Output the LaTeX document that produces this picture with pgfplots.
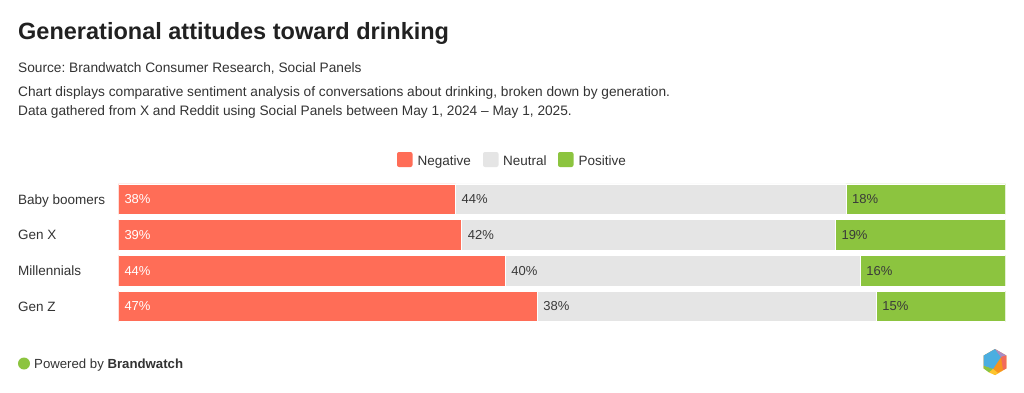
\documentclass[border=0pt]{standalone}
\usepackage{pgfplots}
\pgfplotsset{compat=1.18}
\usepackage{fontspec}
\setmainfont{Liberation Sans}
\frenchspacing
\definecolor{cneg}{HTML}{FF6D57}
\definecolor{cneu}{HTML}{E5E5E5}
\definecolor{cpos}{HTML}{8CC43F}
\definecolor{ttl}{HTML}{212121}
\definecolor{txt}{HTML}{333333}
\definecolor{lbl}{HTML}{3A3A3A}
\definecolor{lgO}{HTML}{F7941D}
\definecolor{lgB}{HTML}{4BAEE0}
\definecolor{lgP}{HTML}{A88BC7}
\definecolor{lgR}{HTML}{F26B5B}
\definecolor{lgY}{HTML}{FDC52E}
\pgfplotstableread{
y neg neu pos
0 38.0 44.0 18.0
1 38.7 42.1 19.2
2 43.6 40.0 16.4
3 47.2 38.2 14.6
}\data
\pgfplotsset{
  base/.style={
    at={(118.3pt,-181.4pt)}, anchor=north west,
    scale only axis, width=887.4pt, height=142.7pt,
    xmin=0, xmax=100, ymin=-0.5, ymax=3.5, y dir=reverse,
  }
}
\begin{document}
\begin{tikzpicture}[x=1pt,y=-1pt]
\useasboundingbox[fill=white] (0,0) rectangle (1024,393);
% titles
\node[anchor=base west, inner sep=0, text=ttl, font=\fontsize{23.5}{27}\selectfont\bfseries] at (18,39.5) {Generational attitudes toward drinking};
\node[anchor=base west, inner sep=0, text=txt, font=\fontsize{13.7}{16}\selectfont] at (18,73) {Source: Brandwatch Consumer Research, Social Panels};
\node[anchor=base west, inner sep=0, text=txt, font=\fontsize{13.7}{16}\selectfont] at (18,96) {Chart displays comparative sentiment analysis of conversations about drinking, broken down by generation.};
\node[anchor=base west, inner sep=0, text=txt, font=\fontsize{13.7}{16}\selectfont] at (18,116) {Data gathered from X and Reddit using Social Panels between May 1, 2024 -- May 1, 2025.};
% legend
\fill[cneg, rounded corners=2pt] (397,152) rectangle (412.5,167);
\node[anchor=base west, inner sep=0, text=txt, font=\fontsize{13.5}{16}\selectfont] at (417.5,165) {Negative};
\fill[cneu, rounded corners=2pt] (483,152) rectangle (498.5,167);
\node[anchor=base west, inner sep=0, text=txt, font=\fontsize{13.5}{16}\selectfont] at (503,165) {Neutral};
\fill[cpos, rounded corners=2pt] (558,152) rectangle (573.5,167);
\node[anchor=base west, inner sep=0, text=txt, font=\fontsize{13.5}{16}\selectfont] at (578.5,165) {Positive};

\begin{axis}[base,
  xbar stacked, bar width=30.5pt,
  axis line style={draw=none}, major tick length=0pt,
  xtick=\empty, ytick={0,1,2,3},
  yticklabels={Baby boomers, Gen X, Millennials, Gen Z},
  yticklabel style={anchor=base west, inner sep=0pt, xshift=-100.3pt, yshift=-5pt, text=txt, font=\fontsize{13.5}{16}\selectfont},
]
\addplot[fill=cneg, draw=white, line width=0.5pt] table[x=neg, y=y] {\data};
\addplot[fill=cneu, draw=white, line width=0.5pt] table[x=neu, y=y] {\data};
\addplot[fill=cpos, draw=white, line width=0.5pt] table[x=pos, y=y] {\data};
\end{axis}

\begin{axis}[base, hide axis, clip=false,
  nodes near coords, point meta=explicit symbolic,
  nodes near coords style={anchor=base west, inner sep=0pt, xshift=6pt, yshift=-4.6pt, font=\fontsize{13}{15}\selectfont},
]
\addplot[draw=none, mark=none, nodes near coords style={text=white}] coordinates {(0,0) [38\%] (0,1) [39\%] (0,2) [44\%] (0,3) [47\%]};
\addplot[draw=none, mark=none, nodes near coords style={text=lbl}] coordinates {(38.0,0) [44\%] (38.7,1) [42\%] (43.6,2) [40\%] (47.2,3) [38\%]};
\addplot[draw=none, mark=none, nodes near coords style={text=lbl}] coordinates {(82.0,0) [18\%] (80.8,1) [19\%] (83.6,2) [16\%] (85.4,3) [15\%]};
\end{axis}

% footer
\fill[cpos] (24,363.5) circle (6);
\node[anchor=base west, inner sep=0, text=txt, font=\fontsize{13.2}{16}\selectfont] at (34,368.5) {Powered by \textbf{Brandwatch}};
% logo
\fill[lgO] (995,349) -- (1006.3,355.5) -- (1006.3,368.5) -- (995,375) -- (983.7,368.5) -- (983.7,355.5) -- cycle;
\fill[lgB] (983.7,355.5) -- (995,349) -- (1001,357) -- (993,369) -- (983.7,366) -- cycle;
\fill[lgP] (995,349) -- (1006.3,355.5) -- (1001,357) -- cycle;
\fill[lgR] (1006.3,355.5) -- (1006.3,368.5) -- (1003,370) -- (1001,357) -- cycle;
\fill[cpos] (983.7,366) -- (993,369) -- (989,372.5) -- (983.7,368.5) -- cycle;
\fill[lgY] (989,372.5) -- (993,369) -- (998,373) -- (1002,371) -- (995,375) -- cycle;
\end{tikzpicture}
\end{document}
